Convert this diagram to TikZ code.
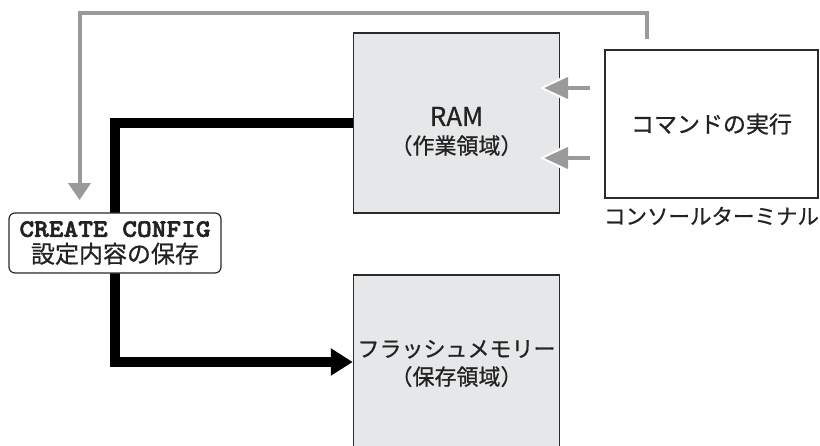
\documentclass[tikz,border=0pt]{standalone}
\usepackage{fontspec}
\usepackage{graphicx}
\setmainfont{Noto Sans CJK JP}[FakeBold=0.7]
\newfontfamily\crfont[Extension=.otf, FakeBold=2.2, FakeStretch=1.12]{lmmonolt10-bold}
\usetikzlibrary{arrows.meta}
\definecolor{boxfill}{HTML}{E6E7E8}
\definecolor{arrgray}{HTML}{9A9A9A}
\definecolor{edgecol}{HTML}{2A2A2A}
\definecolor{txtcol}{HTML}{222222}
\pgfdeclarelayer{bg}
\pgfsetlayers{bg,main}
\begin{document}
\begin{tikzpicture}[x=1pt,y=-1pt,
  membox/.style={draw=edgecol, line width=1.5pt, fill=boxfill, align=center, inner sep=0pt,
    text=txtcol, minimum width=206pt, font=\fontsize{22}{28}\selectfont},
  cmdbox/.style={draw=edgecol, line width=1.2pt, fill=white, align=center, inner sep=0pt,
    text=txtcol, minimum width=213pt, minimum height=148pt, font=\fontsize{23}{28}\selectfont},
  cfgbox/.style={draw=edgecol, line width=1.2pt, fill=white, rounded corners=6pt, align=center,
    text=txtcol, inner sep=0pt, minimum width=212pt, minimum height=60pt, font=\fontsize{24}{26}\selectfont},
  lbl/.style={inner sep=0pt, text=txtcol, font=\fontsize{21.5}{26}\selectfont},
  bigarrow/.style={line width=10pt, line join=miter, -{Triangle[length=22pt,width=26pt]}},
  grayline/.style={arrgray, line width=4pt},
  graytip/.style={grayline, -{Triangle[length=17pt,width=22pt]}},
  smallarrow/.style={grayline, -{Triangle[length=24pt,width=21pt]}},
  halo/.style={white, line width=4pt, -{Triangle[length=29pt,width=28pt]}}
]
\useasboundingbox (0,0) rectangle (820,445);

\node[membox, minimum height=180pt] (ram) at (456.5,123) {\raisebox{0pt}[36pt][0pt]{\fontsize{26}{28}\selectfont RAM}\\（作業領域）};
\node[membox, minimum height=174pt] (flash) at (456.5,362) {\raisebox{0pt}[20pt][0pt]{フラッシュメモリー}\\（保存領域）};
\node[cmdbox] (cmd) at (711.5,124) {コマンドの実行};
\node[lbl] (term) at (711.5,216) {コンソールターミナル};
\node[cfgbox] (cfg) at (115,243) {{\crfont\fontsize{25}{26}\selectfont CREATE CONFIG}\\設定内容の保存};

\begin{pgfonlayer}{bg}
  \fill[white] (0,0) rectangle (820,445);
  \draw[bigarrow] (ram.west) -| (cfg.center) |- (flash.west);
\end{pgfonlayer}

% gray feedback path
\coordinate (gstart) at (646.5,39);
\coordinate (gcorner) at (79.5,13);
\coordinate (gend) at (79.5,200);
\draw[graytip] (gstart) |- (gcorner) -- (gend);

% command arrows into RAM
\coordinate (a1s) at (590,88);
\coordinate (a1e) at (544,88);
\coordinate (a1h) at (540,88);
\coordinate (a2s) at (590,158);
\coordinate (a2e) at (544,158);
\coordinate (a2h) at (540,158);
\draw[halo] (a1s) -- (a1h);
\draw[smallarrow] (a1s) -- (a1e);
\draw[halo] (a2s) -- (a2h);
\draw[smallarrow] (a2s) -- (a2e);
\end{tikzpicture}
\end{document}
